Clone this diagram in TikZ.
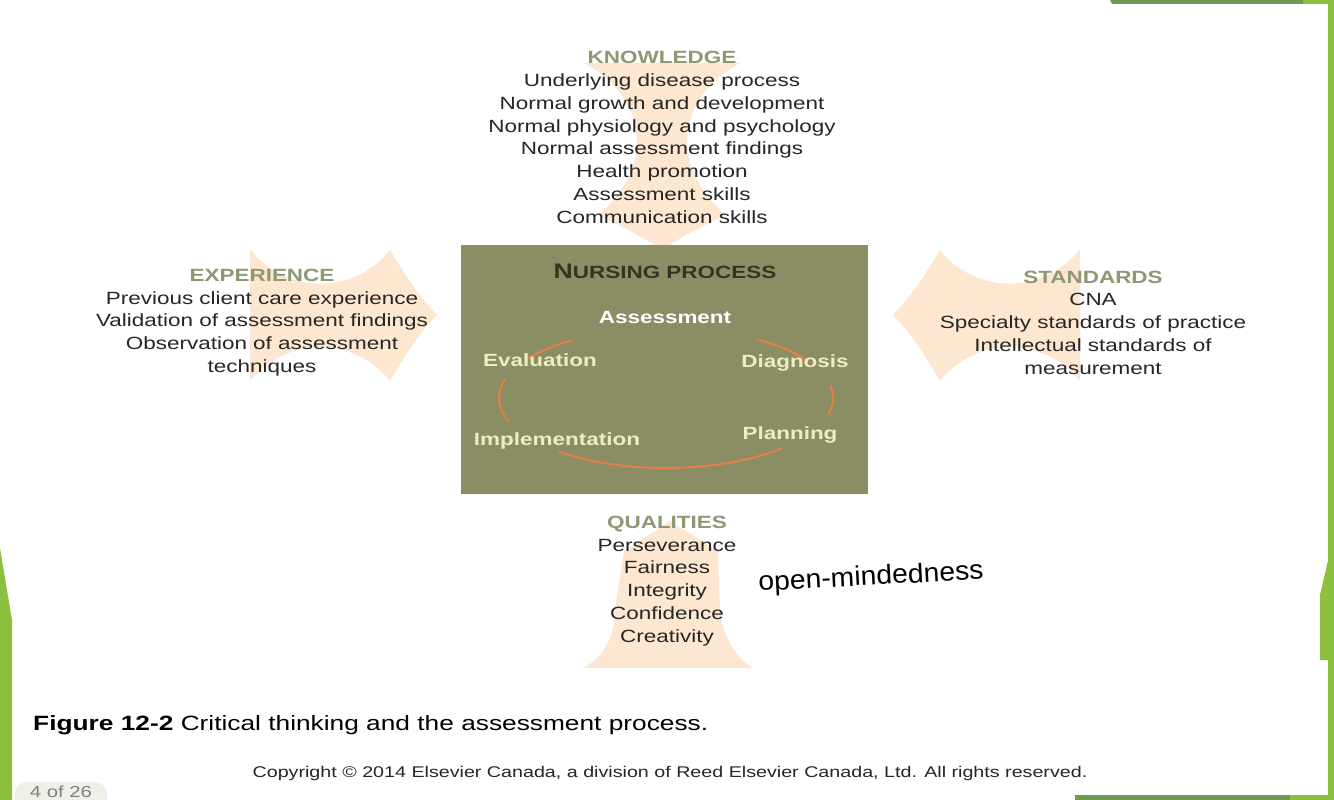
\documentclass[tikz,border=0pt]{standalone}
\usepackage{fontspec}
\setmainfont{Liberation Sans}[FakeStretch=1.27]
\newfontfamily\handfont{Liberation Sans}[FakeStretch=1.05]
\definecolor{peach}{HTML}{FDE7D1}
\definecolor{olive}{HTML}{8B8E64}
\definecolor{headc}{HTML}{8E9873}
\definecolor{bodyc}{HTML}{262626}
\definecolor{cream}{HTML}{F0ECC2}
\definecolor{arcc}{HTML}{E57F45}
\definecolor{npc}{HTML}{3B3121}
\definecolor{framelt}{HTML}{8DC03F}
\definecolor{framedk}{HTML}{6E9A50}
\definecolor{badge}{HTML}{EEF0E8}
\begin{document}
\begin{tikzpicture}[x=1pt,y=-1pt,
  grp/.style={align=center, text=bodyc, inner sep=0pt, font=\fontsize{17.7}{22.75}\selectfont},
  boxlbl/.style={inner sep=0pt, anchor=base, font=\bfseries\fontsize{17.7}{20}\selectfont, text=cream},
  cyc/.style={draw=arcc, line width=2pt},
  arrowfill/.style={fill=peach},
  framebar/.style={fill=framelt}]
\useasboundingbox (0,0) rectangle (1334,800);
\fill[white] (0,0) rectangle (1334,800);

% frame decorations
\fill[framedk] (1110,0) -- (1334,0) -- (1334,4) -- (1112,4) -- cycle;
\fill[framelt] (1303,0) rectangle (1334,4);
\fill[framebar] (1328,0) rectangle (1334,800);
\fill[framebar] (1334,535) -- (1320,595) -- (1320,660) -- (1334,660) -- cycle;
\fill[framebar] (0,548) -- (12,620) -- (12,800) -- (0,800) -- cycle;
\fill[framedk] (1075,795) rectangle (1334,800);
\fill[framelt] (1290,795) rectangle (1334,800);

% peach arrows
\fill[arrowfill] (250,249) .. controls (285,295) and (355,295) .. (390,250)
  .. controls (405,275) and (420,298) .. (437,315)
  .. controls (420,332) and (405,355) .. (390,381)
  .. controls (355,336) and (285,336) .. (250,381) -- cycle;
\fill[arrowfill] (1080,249) .. controls (1045,295) and (975,295) .. (940,250)
  .. controls (925,275) and (910,298) .. (893,315)
  .. controls (910,332) and (925,355) .. (940,381)
  .. controls (975,336) and (1045,336) .. (1080,381) -- cycle;
\fill[arrowfill] (584,63) .. controls (652,100) and (652,170) .. (598,215)
  .. controls (620,225) and (645,238) .. (662,250)
  .. controls (679,238) and (704,225) .. (726,215)
  .. controls (672,170) and (672,100) .. (740,63) -- cycle;
\fill[arrowfill] (670,521) -- (718,551) -- (720,610)
  .. controls (722,640) and (740,660) .. (752,668) -- (583,668)
  .. controls (600,660) and (615,640) .. (615,610) -- (624,551) -- cycle;

% nursing process box
\node[fill=olive, minimum width=407pt, minimum height=249pt, inner sep=0pt] (np) at (664.5,369.5) {};
\node[inner sep=0pt, anchor=base, text=npc, font=\bfseries] (nptitle) at (665,278)
  {{\fontsize{21}{22}\selectfont N}{\fontsize{17.7}{22}\selectfont URSING PROCESS}};

% cycle arcs
\draw[cyc] plot[domain=-57:-33, samples=20] ({666+167*cos(\x)},{398+70*sin(\x)});
\draw[cyc] plot[domain=-10:14, samples=20] ({666+167*cos(\x)},{398+70*sin(\x)});
\draw[cyc] plot[domain=46:130, samples=40] ({666+167*cos(\x)},{398+70*sin(\x)});
\draw[cyc] plot[domain=160:196, samples=20] ({666+167*cos(\x)},{398+70*sin(\x)});
\draw[cyc] plot[domain=213:236, samples=20] ({666+167*cos(\x)},{398+70*sin(\x)});

\node[boxlbl, text=white] (assess) at (665,323) {Assessment};
\node[boxlbl] (diag) at (795,367) {Diagnosis};
\node[boxlbl] (plan) at (790,439) {Planning};
\node[boxlbl] (impl) at (557,445) {Implementation};
\node[boxlbl] (eval) at (540,366) {Evaluation};

% text groups
\node[grp] (know) at (662,137.5) {\textcolor{headc}{\textbf{KNOWLEDGE}}\\
  Underlying disease process\\ Normal growth and development\\
  Normal physiology and psychology\\ Normal assessment findings\\
  Health promotion\\ Assessment skills\\ Communication skills};
\node[grp] (exper) at (262,322.5) {\textcolor{headc}{\textbf{EXPERIENCE}}\\
  Previous client care experience\\ Validation of assessment findings\\
  Observation of assessment\\ techniques};
\node[grp] (stand) at (1093,322.5) {\textcolor{headc}{\textbf{STANDARDS}}\\
  CNA\\ Specialty standards of practice\\
  Intellectual standards of\\ measurement};
\node[grp] (qual) at (667,581) {\textcolor{headc}{\textbf{QUALITIES}}\\
  Perseverance\\ Fairness\\ Integrity\\ Confidence\\ Creativity};

% handwritten note
\node[inner sep=0pt, rotate=3, text=black, font=\handfont\fontsize{27}{29}\selectfont] (note) at (871,578) {open-mindedness};

% caption
\node[inner sep=0pt, anchor=base west, text=black, font=\fontsize{20.7}{24}\selectfont] (cap) at (33,730)
  {\textbf{Figure 12-2} Critical thinking and the assessment process.};
\node[inner sep=0pt, anchor=base, text=bodyc, font=\fontsize{15.5}{17}\selectfont] (copy) at (670,777)
  {Copyright \textcopyright\ 2014 Elsevier Canada, a division of Reed Elsevier Canada, Ltd. All rights reserved.};

% page badge
\fill[badge] (15,800) -- (15,794) arc[start angle=180, end angle=90, radius=12pt] -- (95,782)
  arc[start angle=90, end angle=0, radius=12pt] -- (107,800) -- cycle;
\node[inner sep=0pt, anchor=base, text=gray, font=\fontsize{16}{17}\selectfont] (badge) at (61,797) {4 of 26};
\end{tikzpicture}
\end{document}
